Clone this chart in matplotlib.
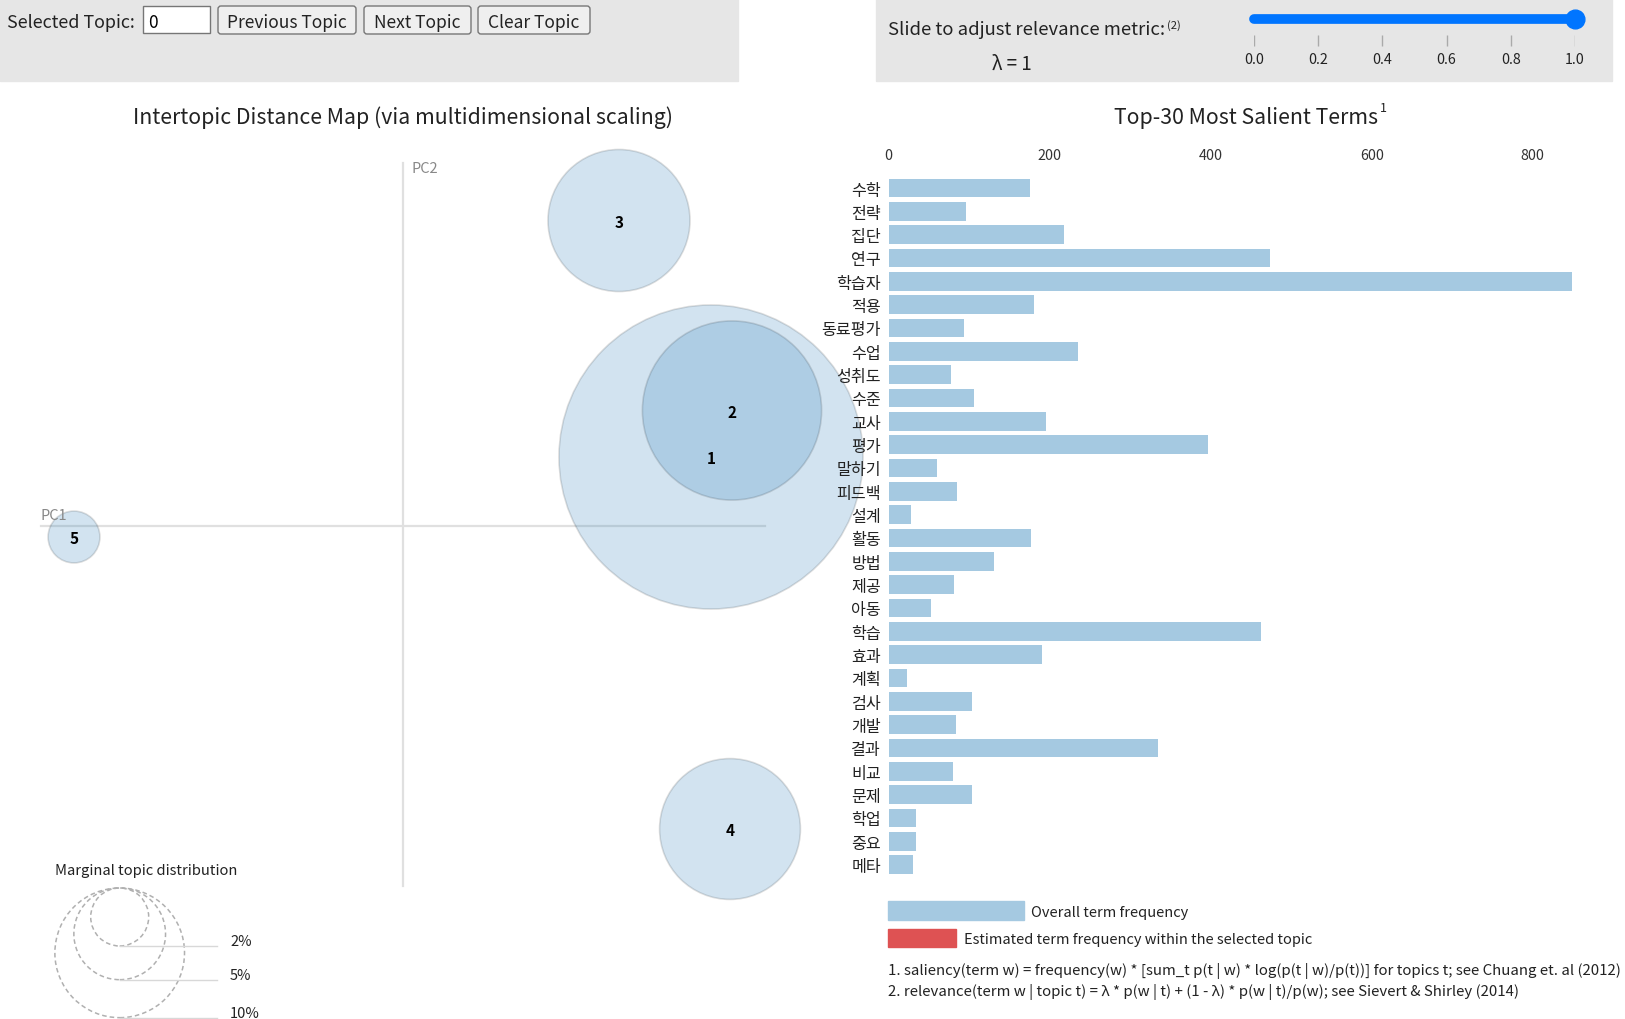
import numpy as np
import matplotlib
matplotlib.use('Agg')
import matplotlib.pyplot as plt
from matplotlib.patches import Circle, Rectangle, FancyBboxPatch

plt.rcParams['font.family'] = ['Noto Sans CJK KR', 'DejaVu Sans']

W, H = 1625, 1020

# top-30 salient terms and overall frequency
terms = ['수학', '전략', '집단', '연구', '학습자', '적용', '동료평가', '수업', '성취도', '수준',
         '교사', '평가', '말하기', '피드백', '설계', '활동', '방법', '제공', '아동', '학습',
         '효과', '계획', '검사', '개발', '결과', '비교', '문제', '학업', '중요', '메타']
term_freq = [175, 96, 218, 474, 849, 181, 93, 235, 78, 106,
             196, 397, 60, 85, 28, 177, 131, 81, 52, 462,
             190, 23, 104, 84, 334, 80, 103, 34, 34, 30]
bar_ticks = [0, 200, 400, 600, 800]

# intertopic distance map
topic_ids = [1, 2, 3, 4, 5]
topic_pc1 = [0.308, 0.329, 0.216, 0.327, -0.329]
topic_pc2 = [0.0685, 0.115, 0.305, -0.3035, -0.0115]
topic_pct = [55.0, 19.1, 12.0, 11.8, 1.6]
legend_pct = [2, 5, 10]

lambda_ticks = [0.0, 0.2, 0.4, 0.6, 0.8, 1.0]
lambda_value = 1

blue = '#1f77b4'
bar_blue = '#a5c9e1'
bar_red = '#de5253'
panel_gray = '#e6e6e6'
txt = '#222222'

PX = 1000.0      # pixels per PC unit
R_K = 20.5       # circle radius (px) per sqrt(percent)
DY = 2           # small downward nudge for text baselines


def px_axes(fig, left, top, width, height, **kw):
    return fig.add_axes([left / W, 1 - (top + height) / H, width / W, height / H], **kw)


fig = plt.figure(figsize=(W / 100, H / 100), dpi=100)

# background layer: control panels, legend boxes
bg = px_axes(fig, 0, 0, W, H, zorder=0)
bg.set_xlim(0, W)
bg.set_ylim(H, 0)
bg.axis('off')

bg.add_patch(Rectangle((0, 0), 738, 82, color=panel_gray))
bg.add_patch(Rectangle((876, 0), 736, 82, color=panel_gray))

bg.text(7, 21 + DY, 'Selected Topic:', fontsize=12.9, va='center', ha='left', color=txt)
bg.add_patch(Rectangle((143, 7), 67, 27, fc='white', ec='#767676', lw=1))
bg.text(148, 21 + DY, '0', fontsize=12.5, va='center', ha='left')
buttons = [('Previous Topic', 218, 356), ('Next Topic', 364, 471), ('Clear Topic', 478, 590)]
for label, x0, x1 in buttons:
    bg.add_patch(FancyBboxPatch((x0, 7), x1 - x0, 28, boxstyle='round,pad=0,rounding_size=3',
                                fc='#efefef', ec='#767676', lw=1))
    bg.text((x0 + x1) / 2, 21 + DY, label, fontsize=12.5, va='center', ha='center', color=txt)

bg.text(888, 28 + DY, 'Slide to adjust relevance metric:', fontsize=13.3, va='center', ha='left',
        color=txt)
bg.text(1167, 24 + DY, '(2)', fontsize=8, va='center', ha='left', color=txt)
bg.text(1012, 62 + DY, 'λ = %d' % lambda_value, fontsize=13.5, va='center', ha='center', color=txt)

# legend for the bars
bg.add_patch(Rectangle((888, 902), 136, 18.5, color=bar_blue))
bg.text(1031, 911 + DY, 'Overall term frequency', fontsize=10.5, va='center', ha='left', color=txt)
bg.add_patch(Rectangle((888, 929.5), 67.5, 18, color=bar_red))
bg.text(964, 938 + DY, 'Estimated term frequency within the selected topic', fontsize=10.5,
        va='center', ha='left', color=txt)
bg.text(888, 969 + DY, '1. saliency(term w) = frequency(w) * [sum_t p(t | w) * log(p(t | w)/p(t))] '
        'for topics t; see Chuang et. al (2012)', fontsize=10.8, va='center', ha='left', color=txt)
bg.text(888, 990 + DY, '2. relevance(term w | topic t) = λ * p(w | t) + (1 - λ) * p(w | t)/p(w); '
        'see Sievert & Shirley (2014)', fontsize=10.8, va='center', ha='left', color=txt)

# titles
bg.text(403, 118, 'Intertopic Distance Map (via multidimensional scaling)', fontsize=15.3,
        ha='center', va='center', color=txt)
bg.text(1246, 118, 'Top-30 Most Salient Terms', fontsize=15.3, ha='center', va='center', color=txt)
bg.text(1380, 108, '1', fontsize=9, ha='left', va='center', color=txt)

# intertopic distance map
ox, oy = 403, 526.5
mleft, mtop, mw, mh = 0, 130, 880, 890
ax = px_axes(fig, mleft, mtop, mw, mh, zorder=1)
ax.set_facecolor('none')
ax.set_xlim((mleft - ox) / PX, (mleft + mw - ox) / PX)
ax.set_ylim((oy - (mtop + mh)) / PX, (oy - mtop) / PX)
ax.axis('off')

ext = 0.362
ax.plot([-ext, ext], [0, 0], color='#e0e0e0', lw=1.6, zorder=1)
ax.plot([0, 0], [-0.3605, 0.3625], color='#e0e0e0', lw=1.6, zorder=1)
ax.text(-ext, 0.004, 'PC1', fontsize=10.5, color='#888888', ha='left', va='bottom')
ax.text(0.008, 0.357, 'PC2', fontsize=10.5, color='#888888', ha='left', va='center')

for x, y, p in zip(topic_pc1, topic_pc2, topic_pct):
    r = R_K * np.sqrt(p) / PX
    ax.add_patch(Circle((x, y), r, fc=blue, alpha=0.2, ec='none', zorder=2))
    ax.add_patch(Circle((x, y), r, fc='none', ec='#000000', alpha=0.13, lw=1.2, zorder=2))
for t, x, y in zip(topic_ids, topic_pc1, topic_pc2):
    ax.text(x, y - 0.0015, str(t), fontsize=11, fontweight='bold', ha='center', va='center',
            zorder=3)

# marginal topic distribution legend
ax.text((55 - ox) / PX, (oy - 869.5 - DY) / PX, 'Marginal topic distribution', fontsize=10.6,
        ha='left', va='center', color=txt)
lx = (119.7 - ox) / PX
ltop = (oy - 889) / PX
for p in legend_pct:
    r = R_K * np.sqrt(p) / PX
    ax.add_patch(Circle((lx, ltop - r), r, fc='none', ec='#b0b0b0', ls=(0, (3, 2)), lw=1.1))
    yb = ltop - 2 * r
    ax.plot([lx, (216.7 - ox) / PX], [yb, yb], color='#d8d8d8', lw=1)
    ax.text((230 - ox) / PX, yb + 0.0045, '%d%%' % p, fontsize=10.5, ha='left', va='center',
            color=txt)

# bar chart
bx0, bpx = 888.7, 0.805
row_h = 23.33
bax = px_axes(fig, bx0, 189 - row_h / 2, 870 * bpx, row_h * 30, zorder=2)
bax.set_facecolor('none')
ypos = np.arange(len(terms))
bax.barh(ypos, term_freq, height=0.8, color=bar_blue)
bax.set_xlim(0, 870)
bax.set_ylim(len(terms) - 0.5, -0.5)
bax.set_yticks(ypos)
bax.set_yticklabels(terms, fontsize=11.6, color=txt)
bax.xaxis.tick_top()
bax.set_xticks(bar_ticks)
bax.set_xticklabels([str(v) for v in bar_ticks], fontsize=10.3, color='#333333')
bax.tick_params(axis='both', length=0)
bax.tick_params(axis='y', pad=5.5)
bax.tick_params(axis='x', pad=10)
for s in bax.spines.values():
    s.set_visible(False)

# relevance slider
sax = px_axes(fig, 1254, 0, 321, 82, zorder=3)
sax.set_xlim(0, 1)
sax.set_ylim(82, 0)
sax.axis('off')
sax.plot([0, 1], [19.7, 19.7], color='#0075ff', lw=7, solid_capstyle='round', clip_on=False)
sax.plot([lambda_value], [19.7], 'o', color='#0075ff', ms=13.5, clip_on=False)
sax.vlines(lambda_ticks, 36, 47, color='#aaaaaa', lw=1)
for t in lambda_ticks:
    sax.text(t, 58 + DY, '%.1f' % t, fontsize=10.3, ha='center', va='center', color=txt)

fig.savefig('out.png', dpi=100)
